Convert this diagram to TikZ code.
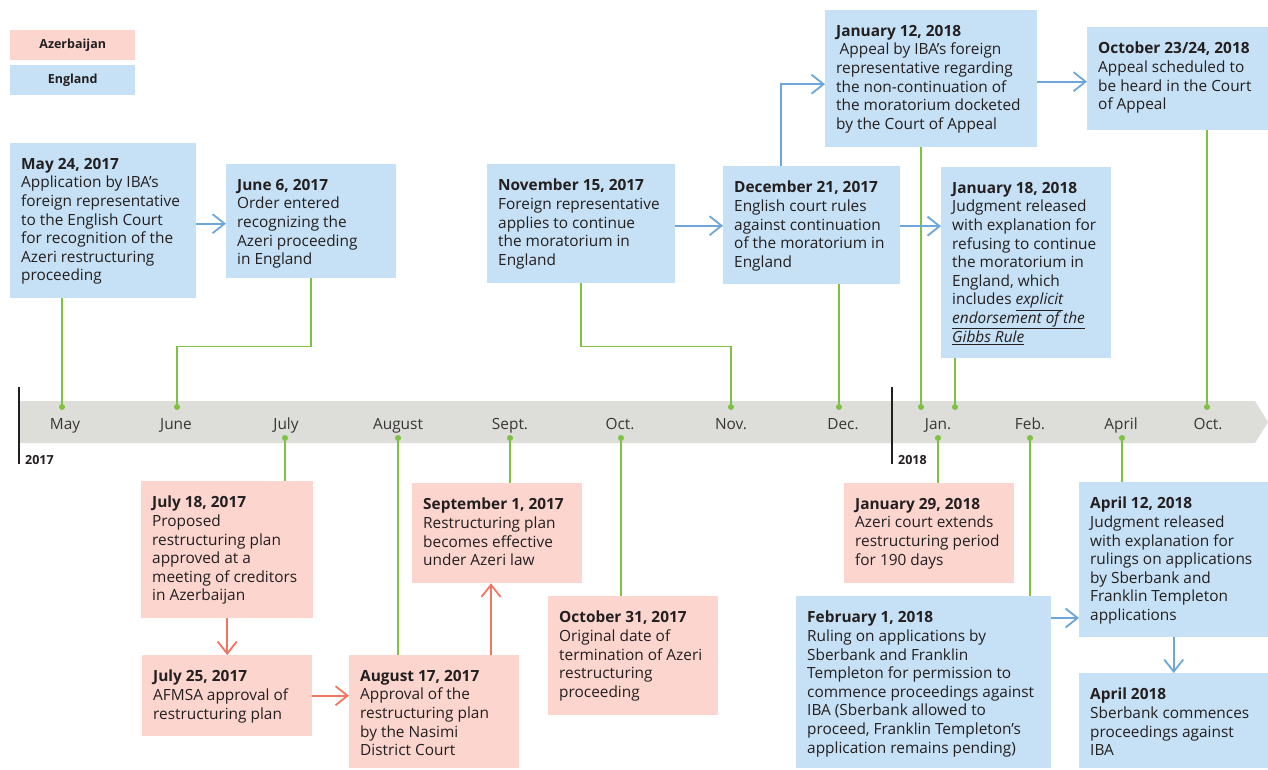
\documentclass[tikz,border=0pt]{standalone}
\usepackage{fontspec}
\setmainfont{Open Sans}
\usetikzlibrary{arrows.meta,calc}
\definecolor{eng}{HTML}{C6E1F5}
\definecolor{aze}{HTML}{FCD5CE}
\definecolor{bandc}{HTML}{DDDDD9}
\definecolor{grn}{HTML}{7DC243}
\definecolor{blu}{HTML}{6CA6DA}
\definecolor{redarr}{HTML}{F27462}
\definecolor{ink}{HTML}{231F20}
\tikzset{
  evbox/.style={anchor=north west, inner sep=0pt, draw=none},
  evtext/.style={anchor=north west, inner sep=0pt, align=left, text=ink,
    font=\fontsize{15.4}{18.6}\selectfont},
  gline/.style={draw=grn, line width=1.8pt},
  gdot/.style={fill=grn},
  barrow/.style={draw=blu, line width=1.8pt, -{Straight Barb[length=12pt,width=19pt]}},
  rarrow/.style={draw=redarr, line width=1.8pt, -{Straight Barb[length=12pt,width=19pt]}},
  mlabel/.style={anchor=base, inner sep=0pt, text=ink!90, font=\fontsize{15.4}{18}\selectfont},
  ylabel/.style={anchor=base west, inner sep=0pt, text=ink, font=\fontsize{12.5}{14}\selectfont\bfseries},
  legbox/.style={anchor=north west, inner sep=0pt, minimum width=125pt, minimum height=30pt,
    text=ink, font=\fontsize{12.5}{14}\selectfont\bfseries},
  yline/.style={draw=ink, line width=1.3pt}
}
\newcommand\evt[8]{%
  \node[evbox, fill=#6, minimum width={#4-#2}, minimum height={#5-#3}] (#1) at (#2,#3) {};
  \node[evtext] (#1t) at ([xshift=11pt,yshift=-15pt]#1.north west) {\textbf{#7}\\#8};
}
\begin{document}
\begin{tikzpicture}[x=1pt,y=-1pt]
\fill[white] (0,0) rectangle (1268,769);
\useasboundingbox (0,0) rectangle (1268,769);

% legend
\node[legbox, fill=aze] (legA) at (10,30) {Azerbaijan};
\node[legbox, fill=eng] (legE) at (10,65) {England};

% band
\fill[bandc] (19,401) -- (1255,401) -- (1268,422) -- (1255,443) -- (19,443) -- cycle;
\coordinate (y17t) at (19,387); \coordinate (y17b) at (19,464);
\coordinate (y18t) at (892,387); \coordinate (y18b) at (892,464);
\draw[yline] (y17t) -- (y17b);
\draw[yline] (y18t) -- (y18b);
\node[ylabel] (l2017) at (25,464) {2017};
\node[ylabel] (l2018) at (898,464) {2018};

% months
\node[mlabel] (mMay) at (65,429) {May};
\node[mlabel] (mJun) at (176,429) {June};
\node[mlabel] (mJul) at (286,429) {July};
\node[mlabel] (mAug) at (398,429) {August};
\node[mlabel] (mSep) at (510,429) {Sept.};
\node[mlabel] (mOct) at (620,429) {Oct.};
\node[mlabel] (mNov) at (731,429) {Nov.};
\node[mlabel] (mDec) at (843,429) {Dec.};
\node[mlabel] (mJan) at (938,429) {Jan.};
\node[mlabel] (mFeb) at (1030,429) {Feb.};
\node[mlabel] (mApr) at (1121,429) {April};
\node[mlabel] (mOct2) at (1208,429) {Oct.};

% dots
\coordinate (dMay) at (62,407);
\coordinate (dJun) at (177,407);
\coordinate (dNov) at (731,407);
\coordinate (dDec) at (839,407);
\coordinate (dJanA) at (921,407);
\coordinate (dJanB) at (955,407);
\coordinate (dOctB) at (1207,407);
\coordinate (dJul) at (285,438);
\coordinate (dAug) at (398,438);
\coordinate (dSep) at (510,438);
\coordinate (dOct) at (621,438);
\coordinate (dJanC) at (938,438);
\coordinate (dFeb) at (1030,438);
\coordinate (dApr) at (1122,438);

% events (England)
\evt{may}{10}{143}{196}{298}{eng}{May 24, 2017}{Application by IBA’s\\foreign representative\\to the English Court\\for recognition of the\\Azeri restructuring\\proceeding}
\evt{jun}{226}{164}{396}{278}{eng}{June 6, 2017}{Order entered\\recognizing the\\Azeri proceeding\\in England}
\evt{nov}{487}{164}{675}{283}{eng}{November 15, 2017}{Foreign representative\\applies to continue\\the moratorium in\\England}
\evt{dec}{723}{166}{900}{284}{eng}{December 21, 2017}{English court rules\\against continuation\\of the moratorium in\\England}
\evt{jant}{825}{10}{1037}{147}{eng}{January 12, 2018}{\hspace*{3.5pt}Appeal by IBA’s foreign\\representative regarding\\the non-continuation of\\the moratorium docketed\\by the Court of Appeal}
\evt{octb}{1087}{27}{1268}{130}{eng}{October 23/24, 2018}{Appeal scheduled to\\be heard in the Court\\of Appeal}
\evt{jane}{941}{167}{1111}{358}{eng}{January 18, 2018}{Judgment released\\with explanation for\\refusing to continue\\the moratorium in\\England, which\\includes \underline{\itshape explicit}\\\underline{\itshape endorsement of the}\\\underline{\itshape Gibbs Rule}}
\evt{feb}{796}{596}{1051}{768}{eng}{February 1, 2018}{Ruling on applications by\\Sberbank and Franklin\\Templeton for permission to\\commence proceedings against\\IBA (Sberbank allowed to\\proceed, Franklin Templeton’s\\application remains pending)}
\evt{apra}{1079}{482}{1268}{637}{eng}{April 12, 2018}{Judgment released\\with explanation for\\rulings on applications\\by Sberbank and\\Franklin Templeton\\applications}
\evt{aprb}{1079}{673}{1268}{768}{eng}{April 2018}{Sberbank commences\\proceedings against\\IBA}

% events (Azerbaijan)
\evt{jula}{141}{481}{313}{618}{aze}{July 18, 2017}{Proposed\\restructuring plan\\approved at a\\meeting of creditors\\in Azerbaijan}
\evt{julb}{142}{655}{312}{736}{aze}{July 25, 2017}{AFMSA approval of\\restructuring plan}
\evt{aug}{349}{655}{519}{768}{aze}{August 17, 2017}{Approval of the\\restructuring plan\\by the Nasimi\\District Court}
\evt{sep}{412}{483}{582}{583}{aze}{September 1, 2017}{Restructuring plan\\becomes effective\\under Azeri law}
\evt{oct}{548}{596}{718}{715}{aze}{October 31, 2017}{Original date of\\termination of Azeri\\restructuring\\proceeding}
\evt{janc}{844}{483}{1014}{583}{aze}{January 29, 2018}{Azeri court extends\\restructuring period\\for 190 days}

% green connectors
\draw[gline] (may.south -| dMay) -- (dMay);
\draw[gline] (jun.south) -- ++(0,68) -| (dJun);
\draw[gline] (nov.south) -- ++(0,63) -| (dNov);
\draw[gline] (dec.south -| dDec) -- (dDec);
\draw[gline] (jant.south -| dJanA) -- (dJanA);
\draw[gline] (jane.south -| dJanB) -- (dJanB);
\draw[gline] (octb.south -| dOctB) -- (dOctB);
\draw[gline] (dJul) -- (dJul |- jula.north);
\draw[gline] (dAug) -- (dAug |- aug.north);
\draw[gline] (dSep) -- (dSep |- sep.north);
\draw[gline] (dOct) -- (dOct |- oct.north);
\draw[gline] (dJanC) -- (dJanC |- janc.north);
\draw[gline] (dFeb) -- (dFeb |- feb.north);
\draw[gline] (dApr) -- (dApr |- apra.north);
\foreach \d in {dMay,dJun,dNov,dDec,dJanA,dJanB,dOctB,dJul,dAug,dSep,dOct,dJanC,dFeb,dApr}
  \fill[gdot] (\d) circle (3pt);

% blue arrows
\draw[barrow] ([yshift=-3pt]may.east) -- ([yshift=-3pt]may.east -| jun.west);
\draw[barrow] ([yshift=-2pt]nov.east) -- ([yshift=-2pt]nov.east -| dec.west);
\draw[barrow] ([yshift=-1pt]dec.east) -- ([yshift=-1pt]dec.east -| jane.west);
\draw[barrow] ([xshift=58pt]dec.north west) |- ([yshift=-5.5pt]jant.west);
\draw[barrow] ([yshift=-3pt]jant.east) -- ([yshift=-3pt]jant.east -| octb.west);
\draw[barrow] ([yshift=-22pt]feb.north east) -- ([yshift=-22pt]feb.north east -| apra.west);
\draw[barrow] (apra.south) -- (aprb.north);

% red arrows
\draw[rarrow] (jula.south) -- (julb.north);
\draw[rarrow] (julb.east) -- (julb.east -| aug.west);
\draw[rarrow] ([xshift=142pt]aug.north west) -- ([xshift=142pt]aug.north west |- sep.south);
\end{tikzpicture}
\end{document}
